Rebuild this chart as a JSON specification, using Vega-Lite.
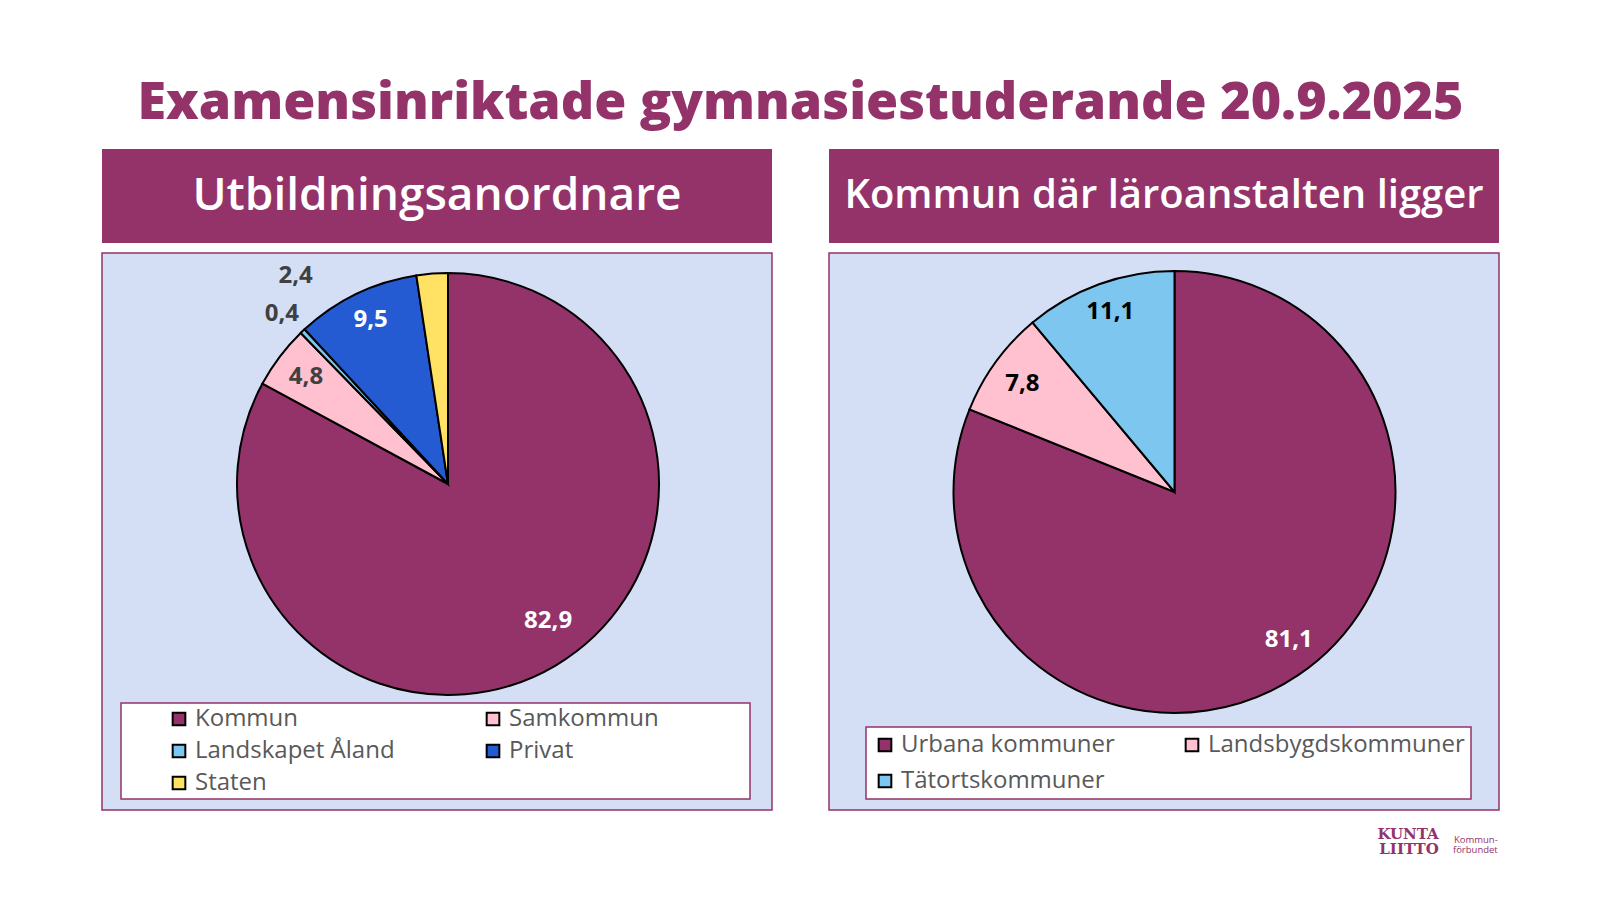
{
  "$schema": "https://vega.github.io/schema/vega-lite/v6.json",
  "background": "white",
  "padding": {"left": 101, "top": 77, "right": 0, "bottom": 0},
  "config": {
    "locale": {"number": {"decimal": ",", "thousands": " ", "grouping": [3], "currency": ["", " €"]}},
    "legend": {"strokeWidth": 1.5}
  },
  "title": {
    "text": "Examensinriktade gymnasiestuderande 20.9.2025",
    "font": "Open Sans",
    "fontSize": 52,
    "fontWeight": 800,
    "color": "#93336A",
    "anchor": "middle",
    "offset": 19
  },
  "vconcat": [
    {
      "spacing": 55,
      "resolve": {"scale": {"color": "independent"}, "legend": {"color": "independent"}},
      "title": {
        "text": ["Kommun-", "förbundet"],
        "orient": "bottom",
        "anchor": "end",
        "font": "Open Sans",
        "fontSize": 9.5,
        "fontWeight": "normal",
        "lineHeight": 10.5,
        "color": "#93336A",
        "dx": -2,
        "offset": -22
      },
      "hconcat": [
        {
          "spacing": 9,
          "vconcat": [
            {
              "width": 670,
              "height": 94,
              "view": {"fill": "#93336A", "stroke": null},
              "data": {"values": [{"rubrik": "Utbildningsanordnare"}]},
              "mark": {"type": "text", "font": "Open Sans", "fontSize": 46, "fontWeight": 600, "color": "white", "align": "center", "baseline": "middle"},
              "encoding": {"text": {"field": "rubrik"}}
            },
            {
              "width": 670,
              "height": 557,
              "view": {"fill": "#D4DFF6", "stroke": "#93336A", "strokeWidth": 1.5},
              "data": {"values": [
                {"kategori": "Kommun", "andel": 82.9, "ordning": 1},
                {"kategori": "Samkommun", "andel": 4.8, "ordning": 2},
                {"kategori": "Landskapet Åland", "andel": 0.4, "ordning": 3},
                {"kategori": "Privat", "andel": 9.5, "ordning": 4},
                {"kategori": "Staten", "andel": 2.4, "ordning": 5}
              ]},
              "encoding": {
                "theta": {"field": "andel", "type": "quantitative", "stack": true},
                "order": {"field": "ordning", "type": "quantitative"}
              },
              "layer": [
                {
                  "mark": {"type": "arc", "outerRadius": 211, "stroke": "black", "strokeWidth": 2, "x": 346, "y": 231},
                  "encoding": {
                    "color": {
                      "field": "kategori",
                      "type": "nominal",
                      "scale": {
                        "domain": ["Kommun", "Landskapet Åland", "Staten", "Samkommun", "Privat"],
                        "range": ["#93336A", "#7DC6EF", "#FFE264", "#FFC0CF", "#245BD3"]
                      },
                      "legend": {
                        "orient": "none",
                        "legendX": 19,
                        "legendY": 554,
                        "columns": 2,
                        "gridAlign": "each",
                        "columnPadding": 86,
                        "rowPadding": 8,
                        "padding": 4,
                        "fillColor": "white",
                        "strokeColor": "#93336A",
                        "title": " ",
                        "titleOrient": "left",
                        "titleFontSize": 10,
                        "titlePadding": 42,
                        "symbolType": "square",
                        "symbolSize": 160,
                        "symbolStrokeColor": "black",
                        "symbolStrokeWidth": 2,
                        "symbolOpacity": 1,
                        "labelFont": "Open Sans",
                        "labelFontSize": 24,
                        "labelColor": "#595959",
                        "labelOffset": 4,
                        "labelLimit": 400,
                        "labelExpr": "datum.label === 'Samkommun' ? datum.label + '\u00a0\u00a0\u00a0\u00a0\u00a0\u00a0\u00a0\u00a0\u00a0\u00a0\u00a0\u00a0\u00a0\u00a0\u200b' : datum.label"
                      }
                    }
                  }
                },
                {
                  "mark": {
                    "type": "text",
                    "font": "Open Sans",
                    "fontWeight": "bold",
                    "fontSize": 24,
                    "align": "center",
                    "baseline": "middle",
                    "x": 346,
                    "y": 231,
                    "radius": {"expr": "datum.andel < 1 ? 241 : (datum.andel < 3 ? 245 : 178)"},
                    "dx": {"expr": "datum.kategori === 'Staten' ? -134 : (datum.kategori === 'Kommun' ? 9 : 0)"},
                    "dy": {"expr": "datum.kategori === 'Staten' ? 36 : (datum.kategori === 'Landskapet Åland' ? 5 : (datum.kategori === 'Kommun' ? -16 : (datum.kategori === 'Privat' ? -4 : 0)))"},
                    "fill": {"expr": "(datum.kategori === 'Kommun' || datum.kategori === 'Privat') ? 'white' : '#404040'"}
                  },
                  "encoding": {
                    "detail": {"field": "kategori", "type": "nominal"},
                    "text": {"field": "andel", "type": "quantitative", "format": ".1f"}
                  }
                }
              ]
            }
          ]
        },
        {
          "spacing": 9,
          "title": {
            "text": ["KUNTA", "LIITTO"],
            "orient": "bottom",
            "anchor": "end",
            "font": "DejaVu Serif",
            "fontSize": 15,
            "fontWeight": "bold",
            "lineHeight": 15,
            "color": "#93336A",
            "dx": -61,
            "offset": 16
          },
          "vconcat": [
            {
              "width": 670,
              "height": 94,
              "view": {"fill": "#93336A", "stroke": null},
              "data": {"values": [{"rubrik": "Kommun där läroanstalten ligger"}]},
              "mark": {"type": "text", "font": "Open Sans", "fontSize": 40, "fontWeight": 600, "color": "white", "align": "center", "baseline": "middle"},
              "encoding": {"text": {"field": "rubrik"}}
            },
            {
              "width": 670,
              "height": 557,
              "view": {"fill": "#D4DFF6", "stroke": "#93336A", "strokeWidth": 1.5},
              "data": {"values": [
                {"kategori": "Urbana kommuner", "andel": 81.1, "ordning": 1},
                {"kategori": "Landsbygdskommuner", "andel": 7.8, "ordning": 2},
                {"kategori": "Tätortskommuner", "andel": 11.1, "ordning": 3}
              ]},
              "encoding": {
                "theta": {"field": "andel", "type": "quantitative", "stack": true},
                "order": {"field": "ordning", "type": "quantitative"}
              },
              "layer": [
                {
                  "mark": {"type": "arc", "outerRadius": 221, "stroke": "black", "strokeWidth": 2, "x": 345.5, "y": 239},
                  "encoding": {
                    "color": {
                      "field": "kategori",
                      "type": "nominal",
                      "scale": {
                        "domain": ["Urbana kommuner", "Tätortskommuner", "Landsbygdskommuner"],
                        "range": ["#93336A", "#7DC6EF", "#FFC0CF"]
                      },
                      "legend": {
                        "orient": "none",
                        "legendX": 37,
                        "legendY": 578,
                        "columns": 2,
                        "gridAlign": "all",
                        "columnPadding": 22,
                        "rowPadding": 12,
                        "padding": 6,
                        "fillColor": "white",
                        "strokeColor": "#93336A",
                        "title": " ",
                        "titleOrient": "left",
                        "titleFontSize": 8,
                        "titlePadding": 1,
                        "symbolType": "square",
                        "symbolSize": 160,
                        "symbolStrokeColor": "black",
                        "symbolStrokeWidth": 2,
                        "symbolOpacity": 1,
                        "labelFont": "Open Sans",
                        "labelFontSize": 24,
                        "labelColor": "#595959",
                        "labelOffset": 4,
                        "labelLimit": 400
                      }
                    }
                  }
                },
                {
                  "mark": {
                    "type": "text",
                    "font": "Open Sans",
                    "fontWeight": "bold",
                    "fontSize": 24,
                    "align": "center",
                    "baseline": "middle",
                    "x": 345.5,
                    "y": 239,
                    "radius": 188,
                    "dx": {"expr": "datum.kategori === 'Urbana kommuner' ? 9 : 0"},
                    "dy": {"expr": "datum.kategori === 'Landsbygdskommuner' ? 3 : (datum.kategori === 'Urbana kommuner' ? -8 : -3)"},
                    "fill": {"expr": "datum.kategori === 'Urbana kommuner' ? 'white' : 'black'"}
                  },
                  "encoding": {
                    "detail": {"field": "kategori", "type": "nominal"},
                    "text": {"field": "andel", "type": "quantitative", "format": ".1f"}
                  }
                }
              ]
            }
          ]
        }
      ]
    }
  ]
}
